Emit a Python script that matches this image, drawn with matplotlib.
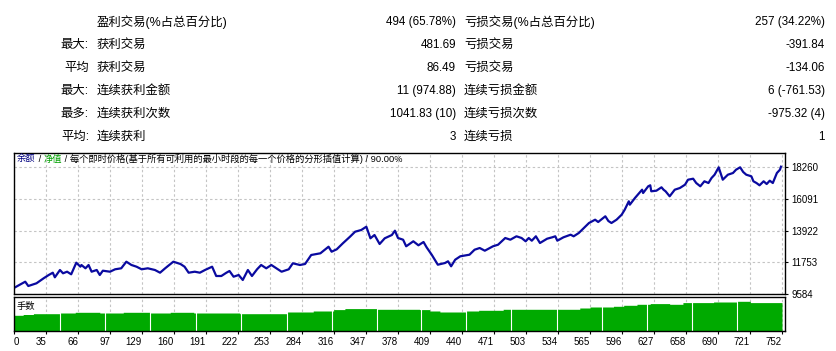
import numpy as np
import matplotlib
matplotlib.use("Agg")
import matplotlib.pyplot as plt

plt.rcParams['font.family'] = ['Liberation Sans', 'Noto Sans CJK SC', 'DejaVu Sans']

# statistiques du rapport
row_prefix = ["", "最大:", "平均", "最大:", "最多:", "平均:"]
win_labels = ["盈利交易(%占总百分比)", "获利交易", "获利交易", "连续获利金额", "连续获利次数", "连续获利"]
win_values = ["494 (65.78%)", "481.69", "86.49", "11 (974.88)", "1041.83 (10)", "3"]
loss_labels = ["亏损交易(%占总百分比)", "亏损交易", "亏损交易", "连续亏损金额", "连续亏损次数", "连续亏损"]
loss_values = ["257 (34.22%)", "-391.84", "-134.06", "6 (-761.53)", "-975.32 (4)", "1"]

# courbe de solde (numero de trade, solde)
trade_idx = [0, 11, 14, 22, 29, 34, 38, 40, 45, 48, 52, 56, 61, 65, 66, 70, 73, 76, 81, 84,
             87, 94, 99, 105, 110, 115, 120, 125, 131, 138, 143, 148, 156, 163, 167, 171, 177, 182, 187, 194,
             198, 203, 208, 211, 215, 220, 224, 229, 233, 238, 242, 247, 252, 257, 262, 269, 273, 280, 285, 291,
             300, 304, 308, 311, 316, 322, 329, 334, 340, 345, 349, 353, 358, 363, 370, 373, 376, 381, 384, 391,
             396, 401, 404, 409, 415, 422, 425, 428, 432, 437, 446, 451, 456, 461, 466, 469, 474, 481, 486, 492,
             497, 501, 504, 507, 511, 515, 522, 527, 530, 532, 538, 545, 548, 553, 558, 563, 569, 572, 579, 582,
             585, 590, 595, 598, 602, 603, 608, 615, 616, 621, 623, 624, 629, 634, 636, 638, 642, 647, 652, 657,
             660, 665, 668, 672, 676, 680, 683, 686, 690, 694, 699, 704, 707, 711, 714, 717, 722, 724, 727, 730,
             734, 737, 740, 743, 747, 750, 751]
balance = [10000, 10425, 10131, 10316, 10658, 10884, 11041, 10726, 11226, 11000, 11109, 10931, 11725, 11451, 11568, 11342, 11568, 11109, 11226, 10884,
           11178, 11109, 11274, 11342, 11793, 11568, 11451, 11274, 11342, 11226, 11041, 11342, 11793, 11636, 11451, 11041, 11109, 11041, 11226, 11451,
           10815, 10815, 11041, 11157, 10767, 10884, 10542, 11226, 10815, 11274, 11568, 11342, 11568, 11342, 11109, 11274, 11684, 11568, 11636, 12252,
           12368, 12594, 12819, 12477, 12641, 13052, 13503, 13845, 13962, 14187, 13394, 13620, 13004, 13394, 13620, 13914, 13414, 13298, 12847, 13189,
           12915, 13141, 12778, 12272, 11588, 11704, 11821, 11479, 11930, 12163, 12272, 12614, 12730, 12546, 12730, 12847, 12956, 13414, 13298, 13531,
           13414, 13189, 13414, 13230, 13531, 13072, 13366, 13462, 13531, 13230, 13462, 13640, 13531, 13756, 14098, 14440, 14666, 14509, 14899, 14577,
           14440, 14666, 15008, 15350, 15925, 15692, 16150, 16718, 16492, 16951, 17019, 16609, 16650, 16882, 16718, 16609, 16267, 16718, 16834, 17060,
           17402, 17470, 17176, 16951, 17293, 17176, 17518, 17744, 18250, 17402, 17744, 17860, 18086, 18250, 17929, 17744, 17634, 17293, 17176, 17019,
           17293, 17108, 17334, 17176, 17860, 18086, 18291]

# taille des lots (debut de palier, lots)
lot_start = [0, 9, 19, 45, 60, 84, 107, 133, 153, 176, 221, 267, 293, 313, 324, 355, 397, 407, 417, 443,
             455, 479, 554, 564, 587, 597, 610, 623, 642, 655, 685, 708, 721]
lot_value = [0.157, 0.165, 0.173, 0.18, 0.187, 0.18, 0.187, 0.18, 0.187, 0.18, 0.173, 0.19, 0.20, 0.214, 0.224, 0.217, 0.214, 0.20, 0.19, 0.20,
             0.207, 0.217, 0.23, 0.24, 0.247, 0.257, 0.267, 0.274, 0.267, 0.284, 0.29, 0.297, 0.284]
gap_trades = [45, 89, 133, 178, 222, 267, 311, 355, 399, 443, 487, 532, 576, 620, 664, 708]

n_trades = 752
x_labels = ["0", "35", "66", "97", "129", "160", "191", "222", "253", "284", "316", "347", "378",
            "409", "440", "471", "503", "534", "565", "596", "627", "658", "690", "721", "752"]
y_ticks = [9584, 11753, 13922, 16091, 18260]

W, H = 836, 351
fig = plt.figure(figsize=(W / 100, H / 100), dpi=100)

# tableau du haut
row_y = [21.7, 45, 68.3, 90.7, 114, 136.7]
fs = 8.4
fs_cjk = 8.9
for i in range(6):
    y = 1 - row_y[i] / H
    fig.text(89 / W, y, row_prefix[i], ha='right', va='center', fontsize=fs_cjk)
    fig.text(97 / W, y, win_labels[i], ha='left', va='center', fontsize=fs_cjk)
    fig.text(456 / W, y, win_values[i], ha='right', va='center', fontsize=fs)
    fig.text(464 / W, y, loss_labels[i], ha='left', va='center', fontsize=fs_cjk)
    fig.text(825 / W, y, loss_values[i], ha='right', va='center', fontsize=fs)

x_right = n_trades * 771 / 768
tick_pos = [i * n_trades / 24 for i in range(25)]
grid_kw = dict(color='#c4c4c4', linestyle=(0, (2.2, 2.2)), linewidth=0.8)

# graphique principal
ax = fig.add_axes([14 / W, (H - 294) / H, 771 / W, (294 - 152.5) / H])
ax.plot(trade_idx, balance, color='#0a0aa0', linewidth=1.6)
ax.set_xlim(0, x_right)
ax.set_ylim(9584, 9584 + (294 - 152.5) * 68.4)
ax.set_xticks(tick_pos)
ax.set_yticks(y_ticks)
ax.set_yticklabels([str(v) for v in y_ticks])
ax.yaxis.tick_right()
ax.tick_params(axis='x', bottom=False, labelbottom=False)
ax.tick_params(axis='y', length=2.5, width=0.8, pad=2, labelsize=7)
ax.grid(True, **grid_kw)
for s in ax.spines.values():
    s.set_linewidth(1.0)

# titre multicolore
t = ax.text(3 / 771, 1 - 7 / 141.5, "余额", transform=ax.transAxes, color='#000080',
            fontsize=6.7, va='center', ha='left')
for part, col in [(" / ", 'black'), ("净值", '#00a000'),
                  (" / 每个即时价格(基于所有可利用的最小时段的每一个价格的分形插值计算) / 90.00%", 'black')]:
    t = ax.annotate(part, xy=(1, 0), xycoords=t, va='bottom', ha='left', color=col, fontsize=6.7)

# volume
lots = np.array(lot_value)[np.searchsorted(lot_start, np.arange(n_trades), side='right') - 1]
axv = fig.add_axes([14 / W, (H - 331) / H, 771 / W, (331 - 297) / H])
axv.fill_between(np.arange(n_trades + 1), np.append(lots, lots[-1]), step='post',
                 color='#00aa00', linewidth=0)
axv.vlines(gap_trades, 0, 0.33, color='white', linewidth=0.8)
axv.set_xlim(0, x_right)
axv.set_ylim(0, 0.34)
axv.set_yticks([])
axv.set_xticks(tick_pos)
axv.set_xticklabels(x_labels)
axv.tick_params(axis='x', length=2.5, width=0.8, pad=1.5, labelsize=7)
for i, lab in enumerate(axv.get_xticklabels()):
    lab.set_ha('left' if i == 0 else 'right')
axv.grid(True, axis='x', **grid_kw)
axv.set_axisbelow(True)
for s in axv.spines.values():
    s.set_linewidth(1.0)
axv.text(3 / 771, 1 - 9 / 34, "手数", transform=axv.transAxes, fontsize=6.7, va='center', ha='left')

fig.savefig("out.png", dpi=100)
